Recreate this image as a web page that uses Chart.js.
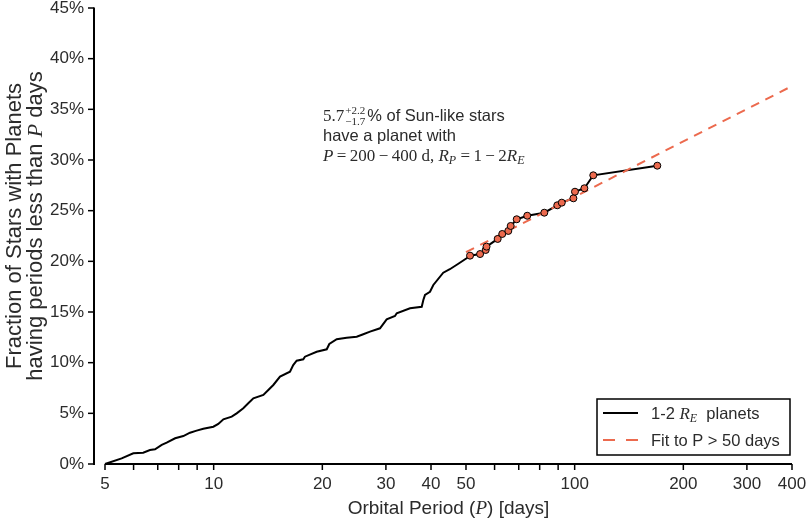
<!DOCTYPE html>
<html>
<head>
<meta charset="utf-8">
<script src="https://cdn.jsdelivr.net/npm/chart.js@4"></script>
<style>
  html, body { margin: 0; padding: 0; background: #fff; }
  canvas { display: block; }
</style>
</head>
<body>
<canvas id="myChart" width="807" height="520"></canvas>
<script>
// cumulative curve for 1-2 R_E planets (period in days, fraction in %)
const curvePeriods = [5, 5.56, 5.99, 6.38, 6.66, 6.88, 7.18, 7.41, 7.82, 8.24, 8.60, 8.97, 9.36, 9.98,
  10.3, 10.64, 11.22, 11.58, 12.08, 12.47, 12.88, 13.73, 14.17, 14.63, 15.27, 16.27, 16.61, 16.98,
  17.71, 17.90, 19.29, 20.57, 20.91, 21.92, 23.36, 24.9, 25.97, 27.11, 28.89, 30.15, 31.79, 32.14,
  34.99, 37.7, 38.09, 38.5, 39.74, 40.6, 43.25, 45.1, 47.5, 50.2];
const curveFractions = [0, 0.56, 1.06, 1.12, 1.38, 1.45, 1.88, 2.10, 2.54, 2.76, 3.09, 3.29, 3.48, 3.68,
  3.95, 4.41, 4.67, 5.00, 5.50, 5.99, 6.48, 6.81, 7.30, 7.80, 8.62, 9.11, 9.77, 10.19,
  10.33, 10.59, 11.08, 11.32, 11.84, 12.31, 12.46, 12.56, 12.80, 13.06, 13.39, 14.28, 14.61, 14.87,
  15.37, 15.52, 16.18, 16.68, 17.00, 17.67, 18.88, 19.22, 19.74, 20.30];

// planets beyond 50 days (drawn with markers)
const markerPeriods = [51.3, 54.7, 56.7, 57.0, 61.2, 63.0, 65.5, 66.5, 69.1, 73.9, 82.4, 89.5, 92.1,
  99.2, 100.2, 106.4, 112.6, 169.4];
const markerFractions = [20.56, 20.72, 21.12, 21.45, 22.21, 22.70, 23.00, 23.49, 24.15, 24.50, 24.80,
  25.53, 25.79, 26.22, 26.87, 27.21, 28.49, 29.44];

// fit to P > 50 days
const fitPeriods = [50, 400];
const fitFractions = [20.9, 37.3];

// axis ticks
const xTickMarks = [5, 6, 7, 8, 9, 10, 20, 30, 40, 50, 60, 70, 80, 90, 100, 200, 300, 400];
const xTickLabels = [5, 10, 20, 30, 40, 50, 100, 200, 300, 400];
const yTicks = [0, 5, 10, 15, 20, 25, 30, 35, 40, 45];

const SANS = '"Liberation Sans", Arial, sans-serif';
const SERIF = '"Liberation Serif", "Times New Roman", serif';
const TXT = '#2b2b2b';
const ORANGE = '#ec6a4e';
const TH = '\u2009';

function pts(xs, ys) {
  return xs.map((v, i) => ({x: v, y: ys[i]}));
}

// text runs drawn left to right (mixed fonts, sub/superscripts)
function runsWidth(ctx, runs) {
  let w = 0;
  runs.forEach(r => {
    if (r.stack) { w += r.w(ctx); return; }
    ctx.font = r.font;
    w += ctx.measureText(r.t).width;
  });
  return w;
}
function drawRuns(ctx, x, y, runs) {
  runs.forEach(r => {
    if (r.stack) { x += r.draw(ctx, x, y); return; }
    ctx.font = r.font;
    ctx.fillText(r.t, x, y + (r.dy || 0));
    x += ctx.measureText(r.t).width;
  });
}

function sans(sz) { return sz + 'px ' + SANS; }
function serif(sz) { return sz + 'px ' + SERIF; }
function iserif(sz) { return 'italic ' + sz + 'px ' + SERIF; }

const decor = {
  id: 'decor',
  beforeDatasetsDraw(chart) {
    const {ctx, chartArea: a, scales: {x, y}} = chart;
    ctx.save();
    ctx.strokeStyle = '#000';
    ctx.lineCap = 'butt';
    // left spine, pushed out from the plot
    const sx = a.left - 11;
    ctx.lineWidth = 2;
    ctx.beginPath();
    ctx.moveTo(sx, y.getPixelForValue(0) + 1);
    ctx.lineTo(sx, y.getPixelForValue(45) - 0.5);
    ctx.stroke();
    ctx.lineWidth = 1.5;
    yTicks.forEach(v => {
      const py = y.getPixelForValue(v);
      ctx.beginPath(); ctx.moveTo(sx - 6, py); ctx.lineTo(sx, py); ctx.stroke();
    });
    // bottom spine
    ctx.lineWidth = 2;
    ctx.beginPath();
    ctx.moveTo(a.left, a.bottom);
    ctx.lineTo(a.right, a.bottom);
    ctx.stroke();
    ctx.lineWidth = 1.5;
    xTickMarks.forEach(v => {
      const px = x.getPixelForValue(v);
      ctx.beginPath(); ctx.moveTo(px, a.bottom); ctx.lineTo(px, a.bottom + 6); ctx.stroke();
    });
    ctx.restore();
  },
  afterDraw(chart) {
    const {ctx, chartArea: a} = chart;
    ctx.save();
    ctx.fillStyle = TXT;
    ctx.textBaseline = 'alphabetic';

    // x axis title
    const xt = [
      {t: 'Orbital Period (', font: sans(19)},
      {t: 'P', font: iserif(19)},
      {t: ') [days]', font: sans(19)}
    ];
    const xw = runsWidth(ctx, xt);
    drawRuns(ctx, (a.left + a.right) / 2 - xw / 2, 514, xt);

    // y axis title (two lines, rotated)
    ctx.save();
    ctx.translate(0, 226);
    ctx.rotate(-Math.PI / 2);
    const l1 = [{t: 'Fraction of Stars with Planets', font: sans(22)}];
    const l2 = [
      {t: 'having periods less than ', font: sans(22)},
      {t: 'P', font: iserif(22)},
      {t: ' days', font: sans(22)}
    ];
    drawRuns(ctx, -runsWidth(ctx, l1) / 2, 21, l1);
    drawRuns(ctx, -runsWidth(ctx, l2) / 2, 42, l2);
    ctx.restore();

    // annotation
    const ax = 323;
    const pm = {
      stack: true,
      w(c) { c.font = serif(11); return c.measureText('\u22121.7').width + 3; },
      draw(c, x0, y0) {
        c.font = serif(11);
        c.fillText('+2.2', x0 + 1, y0 - 7);
        c.fillText('\u22121.7', x0 + 1, y0 + 4);
        return c.measureText('\u22121.7').width + 3;
      }
    };
    drawRuns(ctx, ax, 121, [
      {t: '5.7', font: serif(17)}, pm,
      {t: '% of Sun-like stars', font: sans(16.5)}
    ]);
    drawRuns(ctx, ax, 141, [{t: 'have a planet with', font: sans(16.5)}]);
    drawRuns(ctx, ax, 161, [
      {t: 'P', font: iserif(17)},
      {t: TH + '=' + TH + '200' + TH + '\u2212' + TH + '400 d, ', font: serif(17)},
      {t: 'R', font: iserif(17)},
      {t: 'P', font: iserif(12), dy: 3},
      {t: ' =' + TH + '1' + TH + '\u2212' + TH + '2', font: serif(17)},
      {t: 'R', font: iserif(17)},
      {t: 'E', font: iserif(12), dy: 3}
    ]);

    // legend
    const bx = 597, by = 399, bw = 193, bh = 56;
    ctx.fillStyle = '#fff';
    ctx.fillRect(bx, by, bw, bh);
    ctx.strokeStyle = '#000';
    ctx.lineWidth = 1.5;
    ctx.strokeRect(bx, by, bw, bh);
    ctx.lineWidth = 2;
    ctx.beginPath(); ctx.moveTo(603, 413); ctx.lineTo(638, 413); ctx.stroke();
    ctx.strokeStyle = ORANGE;
    ctx.setLineDash([12, 11]);
    ctx.beginPath(); ctx.moveTo(603, 440); ctx.lineTo(638, 440); ctx.stroke();
    ctx.setLineDash([]);
    ctx.fillStyle = TXT;
    drawRuns(ctx, 651, 419, [
      {t: '1-2 ', font: sans(16.5)},
      {t: 'R', font: iserif(17)},
      {t: 'E', font: iserif(12), dy: 3},
      {t: '  planets', font: sans(16.5)}
    ]);
    drawRuns(ctx, 651, 446, [{t: 'Fit to P > 50 days', font: sans(16.5)}]);
    ctx.restore();
  }
};

const ctx = document.getElementById('myChart');
new Chart(ctx, {
  type: 'line',
  data: {
    datasets: [{
      label: '1-2 R_E planets',
      data: pts(curvePeriods.concat(markerPeriods), curveFractions.concat(markerFractions)),
      borderColor: '#000',
      borderWidth: 2,
      pointRadius: 0,
      tension: 0,
      fill: false,
      clip: 6,
      order: 2
    }, {
      label: 'Fit to P > 50 days',
      data: pts(fitPeriods, fitFractions),
      borderColor: ORANGE,
      borderWidth: 2,
      borderDash: [9, 7],
      pointRadius: 0,
      fill: false,
      clip: 6,
      order: 1
    }, {
      label: 'P > 50 days',
      data: pts(markerPeriods, markerFractions),
      showLine: false,
      pointRadius: 3.5,
      pointBackgroundColor: ORANGE,
      pointBorderColor: '#000',
      pointBorderWidth: 1,
      clip: 6,
      order: 0
    }]
  },
  options: {
    responsive: false,
    animation: false,
    layout: {autoPadding: false, padding: {top: 8, right: 15, left: 0, bottom: 0}},
    plugins: {legend: {display: false}, tooltip: {enabled: false}},
    scales: {
      x: {
        type: 'logarithmic',
        min: 5,
        max: 400,
        afterBuildTicks: s => { s.ticks = xTickMarks.map(v => ({value: v})); },
        afterFit: s => { s.height = 56; },
        ticks: {
          autoSkip: false,
          maxRotation: 0,
          padding: 0,
          color: TXT,
          font: {family: SANS, size: 17},
          callback: v => xTickLabels.includes(v) ? String(v) : ''
        },
        grid: {display: false, drawTicks: true, tickLength: 10},
        border: {display: false}
      },
      y: {
        min: 0,
        max: 45,
        afterBuildTicks: s => { s.ticks = yTicks.map(v => ({value: v})); },
        afterFit: s => { s.width = 105; },
        ticks: {
          padding: 0,
          color: TXT,
          font: {family: SANS, size: 17, lineHeight: 0.9},
          callback: v => v + '%'
        },
        grid: {display: false, drawTicks: true, tickLength: 21},
        border: {display: false}
      }
    }
  },
  plugins: [decor]
});
</script>
</body>
</html>
